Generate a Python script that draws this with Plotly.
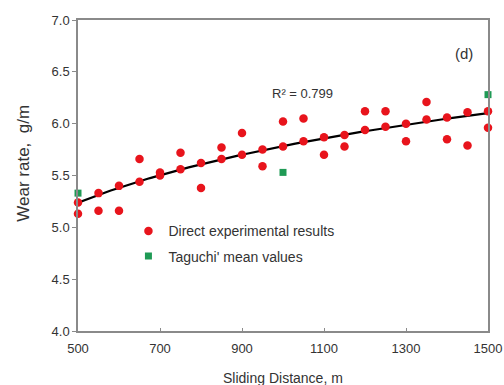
import numpy as np
import plotly.graph_objects as go

# Direct experimental results (sliding distance, wear rate)
exp_x = [500, 500, 550, 550, 600, 600, 650, 650, 700, 700, 750, 750, 800, 800,
         850, 850, 900, 900, 950, 950, 1000, 1000, 1050, 1050, 1100, 1100,
         1150, 1150, 1200, 1200, 1250, 1250, 1300, 1300, 1350, 1350, 1400, 1400,
         1450, 1450, 1500, 1500]
exp_y = [5.24, 5.13, 5.33, 5.16, 5.40, 5.16, 5.66, 5.44, 5.53, 5.50, 5.72, 5.56,
         5.62, 5.38, 5.77, 5.66, 5.91, 5.70, 5.75, 5.59, 6.02, 5.78, 6.05, 5.83,
         5.87, 5.70, 5.89, 5.78, 6.12, 5.94, 6.12, 5.97, 6.00, 5.83, 6.21, 6.04,
         6.06, 5.85, 6.11, 5.79, 6.12, 5.96]

# Taguchi mean values
tag_x = [500, 1000, 1500]
tag_y = [5.33, 5.53, 6.28]

x_ticks = [500, 700, 900, 1100, 1300, 1500]
y_ticks = [4.0, 4.5, 5.0, 5.5, 6.0, 6.5, 7.0]

# logarithmic trend line fitted to the experimental points
a, b = np.polyfit(np.log(exp_x), exp_y, 1)
fit_x = np.linspace(500, 1500, 101)
fit_y = a * np.log(fit_x) + b

FONT = "Liberation Sans, Arial, sans-serif"

fig = go.Figure()
fig.add_trace(go.Scatter(x=fit_x, y=fit_y, mode="lines",
                         line=dict(color="black", width=2.2), showlegend=False,
                         hoverinfo="skip", cliponaxis=False))
fig.add_trace(go.Scatter(x=exp_x, y=exp_y, mode="markers",
                         name="Direct experimental results", legendgroup="a",
                         cliponaxis=False,
                         marker=dict(color="#e8141c", size=8.5, symbol="circle")))
fig.add_trace(go.Scatter(x=tag_x, y=tag_y, mode="markers",
                         name="Taguchi' mean values", legendgroup="b",
                         cliponaxis=False,
                         marker=dict(color="#1f9a55", size=7, symbol="square")))

fig.add_annotation(x=1048, y=6.29, text="R² = 0.799", showarrow=False,
                   font=dict(family=FONT, size=13, color="#333333"))
fig.add_annotation(x=1442, y=6.68, text="(d)", showarrow=False,
                   font=dict(family=FONT, size=15, color="#333333"))
# axis titles
fig.add_annotation(xref="paper", yref="paper", x=0.5, y=-0.151, text="Sliding Distance, m",
                   showarrow=False, xanchor="center", yanchor="middle",
                   font=dict(family=FONT, size=14, color="#333333"))
fig.add_annotation(xref="paper", yref="paper", x=-0.135, y=0.54, text="Wear rate,  g/m",
                   showarrow=False, xanchor="center", yanchor="middle", textangle=-90,
                   font=dict(family=FONT, size=17, color="#333333"))

fig.update_layout(
    width=504, height=385,
    margin=dict(l=78, r=16, t=20, b=54),
    paper_bgcolor="white", plot_bgcolor="white",
    font=dict(family=FONT, size=12, color="#333333"),
    legend=dict(x=0.123, y=0.372, xanchor="left", yanchor="top",
                bgcolor="rgba(0,0,0,0)", font=dict(size=14, color="#333333"),
                itemwidth=30, tracegroupgap=4),
    showlegend=True,
)
fig.update_xaxes(range=[500, 1500], tickvals=x_ticks, ticktext=[str(v) for v in x_ticks],
                 showgrid=False, zeroline=False, showline=True, linecolor="#8a8a8a",
                 linewidth=1.5, mirror=True, ticks="inside", ticklen=3, tickcolor="#8a8a8a",
                 ticklabelstandoff=5, automargin=False,
                 tickfont=dict(size=13, color="#333333"))
fig.update_yaxes(range=[4.0, 7.0], tickvals=y_ticks, ticktext=[f"{v:.1f}" for v in y_ticks],
                 showgrid=False, zeroline=False, showline=True, linecolor="#8a8a8a",
                 linewidth=1.5, mirror=True, ticks="outside", ticklen=4, tickcolor="#8a8a8a",
                 automargin=False,
                 tickfont=dict(size=13, color="#333333"))

fig.write_html("out.html")
